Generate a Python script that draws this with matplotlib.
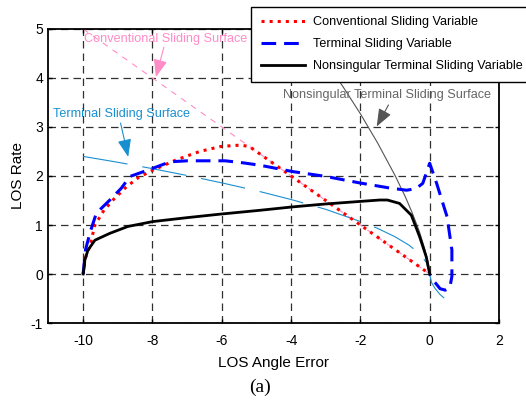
import matplotlib
matplotlib.use("Agg")
import matplotlib.pyplot as plt

plt.rcParams['font.family'] = ['Liberation Sans', 'DejaVu Sans']
plt.rcParams['axes.unicode_minus'] = False

# --- state trajectories (LOS angle error, LOS rate) ---
conv_x = [-10, -9.95, -9.81, -9.66, -9.4, -9.14, -8.75, -8.4, -7.99, -7.31,
          -6.64, -6.05, -5.7, -5.45, -5.2, -4.0, -3.0, -2.0, -1.0, -0.5, 0]
conv_y = [0, 0.3, 0.56, 1.0, 1.3, 1.51, 1.78, 1.97, 2.12, 2.33,
          2.5, 2.6, 2.62, 2.63, 2.6, 2.0, 1.5, 1.0, 0.5, 0.25, 0]

term_x = [-10, -9.93, -9.8, -9.62, -9.23, -8.9, -8.65, -7.98, -7.49, -7.0,
          -6.5, -5.9, -5.4, -4.9, -3.95, -2.99, -2.03, -1.2, -0.67, -0.4,
          -0.2, 0, 0.2, 0.5, 0.64, 0.64, 0.58, 0.45, 0.3, 0.15, 0.03, 0]
term_y = [0, 0.5, 0.85, 1.24, 1.51, 1.75, 1.99, 2.16, 2.29, 2.31,
          2.31, 2.31, 2.27, 2.22, 2.09, 1.99, 1.86, 1.76, 1.71, 1.74,
          1.85, 2.26, 1.85, 1.17, 0.49, -0.05, -0.28, -0.33, -0.3, -0.17, -0.03, 0]

nts_x = [-10, -9.97, -9.95, -9.86, -9.66, -9.23, -8.71, -7.99, -7.0, -6.07,
         -4.9, -3.95, -2.99, -2.03, -1.44, -1.22, -0.87, -0.53, -0.29, -0.1, 0]
nts_y = [0, 0.15, 0.29, 0.49, 0.69, 0.83, 0.97, 1.07, 1.15, 1.22,
         1.30, 1.37, 1.43, 1.48, 1.51, 1.51, 1.44, 1.20, 0.76, 0.35, 0]

# --- sliding surfaces ---
conv_surf_x = [-10, 0]
conv_surf_y = [5, 0]

term_surf_x = [-10, -9, -8, -7, -6, -5, -4, -3, -2, -1.5, -1, -0.6, -0.3,
               -0.1, 0, 0.05, 0.15, 0.3, 0.45, 0.6]
term_surf_y = [2.40, 2.28, 2.15, 2.01, 1.86, 1.70, 1.52, 1.32, 1.07, 0.93,
               0.76, 0.59, 0.42, 0.24, 0, -0.17, -0.29, -0.42, -0.51, -0.59]

nts_surf_x = [-3.68, -3.3, -3.0, -2.5, -2.0, -1.5, -1.0, -0.7, -0.5, -0.3,
              -0.15, -0.05, 0]
nts_surf_y = [5.0, 4.63, 4.34, 3.82, 3.27, 2.67, 2.01, 1.57, 1.24, 0.87,
              0.53, 0.25, 0]

x_ticks = [-10, -8, -6, -4, -2, 0, 2]
y_ticks = [-1, 0, 1, 2, 3, 4, 5]

legend_labels = ['Conventional Sliding Variable',
                 'Terminal Sliding Variable',
                 'Nonsingular Terminal Sliding Variable']

PINK = '#ff8cc6'
CYAN = '#1a8fd0'
GRAY = '#555555'

fig = plt.figure(figsize=(5.26, 4.01), dpi=100)
ax = fig.add_axes([0.0922, 0.1945, 0.8565, 0.7332])

ax.set_xlim(-11, 2)
ax.set_ylim(-1, 5)
ax.set_xticks(x_ticks)
ax.set_yticks(y_ticks)
ax.grid(True, color='#303030', linestyle=(0, (6, 4)), linewidth=0.9)
ax.set_axisbelow(True)
ax.tick_params(direction='in', length=3, width=1, labelsize=10,
               top=True, right=True, pad=8)
ax.tick_params(axis='y', pad=4)
for s in ax.spines.values():
    s.set_linewidth(1.3)

# surfaces
ax.plot(conv_surf_x, conv_surf_y, color=PINK, lw=0.8, linestyle=(0, (5.4, 5.4)))
ax.plot(term_surf_x, term_surf_y, color=CYAN, lw=0.8, linestyle=(0, (40.5, 13.5)))
ax.plot(nts_surf_x, nts_surf_y, color=GRAY, lw=0.8)

# trajectories
l1, = ax.plot(conv_x, conv_y, color='#ff0000', lw=2.2, linestyle=':')
l2, = ax.plot(term_x, term_y, color='#0000ff', lw=2.2, linestyle=(0, (4.8, 2.6)))
l3, = ax.plot(nts_x, nts_y, color='black', lw=2.0)

# annotations
arrow = dict(arrowstyle='-|>,head_length=0.9,head_width=0.35', lw=0.8,
             shrinkA=0, shrinkB=0, mutation_scale=12)
ax.annotate('', xy=(-7.90, 4.02), xytext=(-7.67, 4.63),
            arrowprops=dict(arrow, color=PINK))
ax.text(-9.98, 4.79, 'Conventional Sliding Surface', color=PINK,
        fontsize=9.1, va='center', ha='left')

ax.annotate('', xy=(-8.70, 2.39), xytext=(-8.92, 3.08),
            arrowprops=dict(arrow, color=CYAN))
ax.text(-10.87, 3.26, 'Terminal Sliding Surface', color=CYAN,
        fontsize=9.1, va='center', ha='left')

ax.annotate('', xy=(-1.53, 3.01), xytext=(-1.19, 3.45),
            arrowprops=dict(arrow, color='#555555'))
ax.text(-4.22, 3.65, 'Nonsingular Terminal Sliding Surface', color='#666666',
        fontsize=9.1, va='center', ha='left')

ax.set_xlabel('LOS Angle Error', fontsize=11, labelpad=6)
ax.set_ylabel('LOS Rate', fontsize=11, labelpad=4)

# legend box runs past the right edge of the figure
leg = fig.legend([l1, l2, l3], legend_labels, loc='upper right',
                 bbox_to_anchor=(532 / 526, 1 - 7 / 401),
                 bbox_transform=fig.transFigure, fontsize=9.1,
                 frameon=True, fancybox=False, framealpha=1,
                 edgecolor='black', handlelength=3.5, handletextpad=0.63,
                 labelspacing=0.78, borderpad=0.75, borderaxespad=0)
leg.get_frame().set_linewidth(1.0)

fig.text(260.5 / 526, 1 - 387 / 401, '(a)', fontsize=14,
         family=['Liberation Serif', 'DejaVu Serif'], ha='center', va='center')

fig.savefig('out.png', dpi=100)
